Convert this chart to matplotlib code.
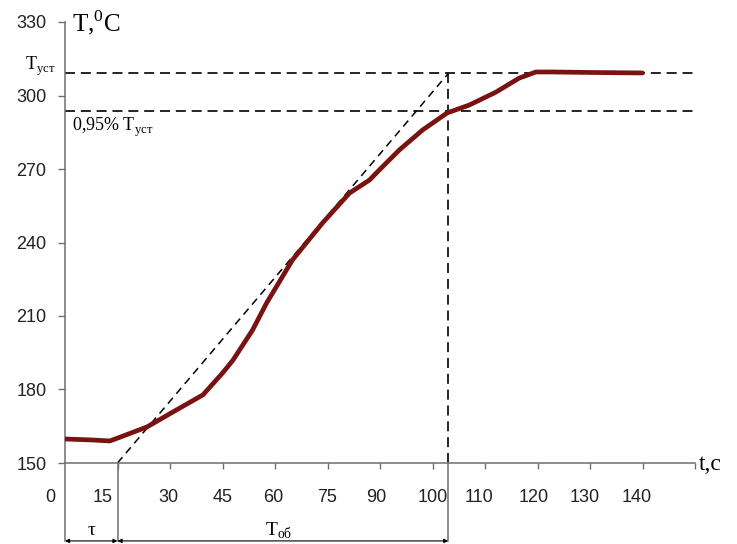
import matplotlib
matplotlib.use('Agg')
import matplotlib.pyplot as plt
import numpy as np

# time axis (15 s steps up to 90 s, then 10 s steps)
AXIS_T = [0, 15, 30, 45, 60, 75, 90, 100, 110, 120, 130, 140, 150]
X_LABELS = ['0', '15', '30', '45', '60', '75', '90', '100', '110', '120', '130', '140']
Y_TICKS = [150, 180, 210, 240, 270, 300, 330]

# heating curve
curve_t = [0, 7.7, 12.8, 15.1, 23.4, 30.8, 39.4, 45, 48, 53.6, 57.6, 65, 73.6,
           81.3, 87, 89.8, 93.7, 98.1, 102.8, 107, 112.1, 116.5, 119.7, 122.8, 130, 140]
curve_T = [159.8, 159.4, 159.0, 160.2, 164.7, 170.8, 177.8, 186.7, 192.0, 204.3, 215.3, 232.9, 248.0,
           260.2, 265.5, 269.6, 277.8, 285.9, 292.9, 296.1, 301.4, 307.1, 309.6, 309.6, 309.4, 309.2]

T_ust = 309.0      # steady-state temperature
T_095 = 293.5      # 0,95 of steady state
tau = 15           # delay
t_ob_end = 103     # end of time constant segment

plt.rcParams['mathtext.fontset'] = 'custom'
plt.rcParams['mathtext.rm'] = 'Liberation Serif'

AXIS_COLOR = '#6e6e6e'
SERIF = 'Liberation Serif'
SANS = 'Liberation Sans'

fig = plt.figure(figsize=(7.37, 5.44), dpi=100)
ax = fig.add_axes([65 / 737, 81 / 544, 630 / 737, 441 / 544])

# piecewise time scale
pos = np.arange(len(AXIS_T))
ax.set_xscale('function', functions=(lambda t: np.interp(t, AXIS_T, pos),
                                     lambda u: np.interp(u, pos, AXIS_T)))
ax.set_xlim(0, 150)
ax.set_ylim(150, 330)

# axes decoration
for side in ['top', 'right']:
    ax.spines[side].set_visible(False)
for side in ['left', 'bottom']:
    ax.spines[side].set_color(AXIS_COLOR)
    ax.spines[side].set_linewidth(1.1)

ax.set_xticks([])
ax.set_xticks(AXIS_T[1:], minor=True)
ax.tick_params(axis='x', which='minor', direction='out', length=4.3, width=1.0, color=AXIS_COLOR)
ax.set_yticks(Y_TICKS)
ax.set_yticklabels([str(v) for v in Y_TICKS], fontsize=13, family=SANS, color='#222222')
ax.tick_params(axis='y', direction='out', length=5, width=1.0, color=AXIS_COLOR, pad=8.5)

# x labels drawn by hand (first two sit left of their ticks)
label_dx = [-15, -15, -2, 0, -2, 0, -4, 0, -6, -4, -5, -6]
for t, lbl, dx in zip(AXIS_T, X_LABELS, label_dx):
    ax.annotate(lbl, xy=(t, 0), xycoords=('data', 'axes fraction'),
                xytext=(dx, -39), textcoords='offset pixels',
                ha='center', va='baseline', fontsize=13, family=SANS, color='#222222')

# reference lines
dash = (0, (6, 3.5))
ax.plot([0, 150], [T_ust, T_ust], color='black', lw=1.2, ls=dash, clip_on=False, zorder=2)
ax.plot([0, 150], [T_095, T_095], color='black', lw=1.2, ls=dash, clip_on=False, zorder=2)
ax.plot([tau, t_ob_end], [150, T_ust], color='black', lw=1.1, ls=(0, (5, 3.5)), zorder=2)
ax.plot([t_ob_end, t_ob_end], [150, T_ust], color='black', lw=1.2, ls=dash, zorder=2)

# curve
ax.plot(curve_t, curve_T, color='#7a1212', lw=3.4, solid_capstyle='round',
        solid_joinstyle='round', zorder=3)

# lines below the time axis
y_arrow = 118.2
for t in [0, tau, t_ob_end]:
    ax.plot([t, t], [y_arrow, 150], color=AXIS_COLOR, lw=1.1, clip_on=False)
for a, b in [(0, tau), (tau, t_ob_end)]:
    ax.annotate('', xy=(a, y_arrow), xytext=(b, y_arrow),
                arrowprops=dict(arrowstyle='<|-|>', color='black', lw=0.8,
                                mutation_scale=6, shrinkA=0, shrinkB=0),
                annotation_clip=False)

ax.text(7.5, 120.6, 'τ', fontsize=14, family=SERIF, ha='center', va='baseline')
ax.text(61, 120.2, r'T$_\mathregular{об}$', fontsize=14, family=SERIF, ha='center', va='baseline')

# axis titles and level labels
ax.annotate(r'T,$^\mathregular{0}$C', xy=(0, 330), xytext=(7, -9), textcoords='offset pixels',
            fontsize=18, family=SERIF, ha='left', va='baseline', annotation_clip=False)
ax.annotate('t,c', xy=(150, 150), xytext=(4, -7), textcoords='offset pixels',
            fontsize=17, family=SERIF, ha='left', va='baseline', annotation_clip=False)
ax.annotate(r'T$_\mathregular{уст}$', xy=(0, T_ust), xytext=(-10, 3), textcoords='offset pixels',
            fontsize=13, family=SERIF, ha='right', va='baseline', annotation_clip=False)
ax.annotate(r'0,95% T$_\mathregular{уст}$', xy=(0, T_095), xytext=(7, -20), textcoords='offset pixels',
            fontsize=13, family=SERIF, ha='left', va='baseline')

fig.savefig('out.png', dpi=100)
